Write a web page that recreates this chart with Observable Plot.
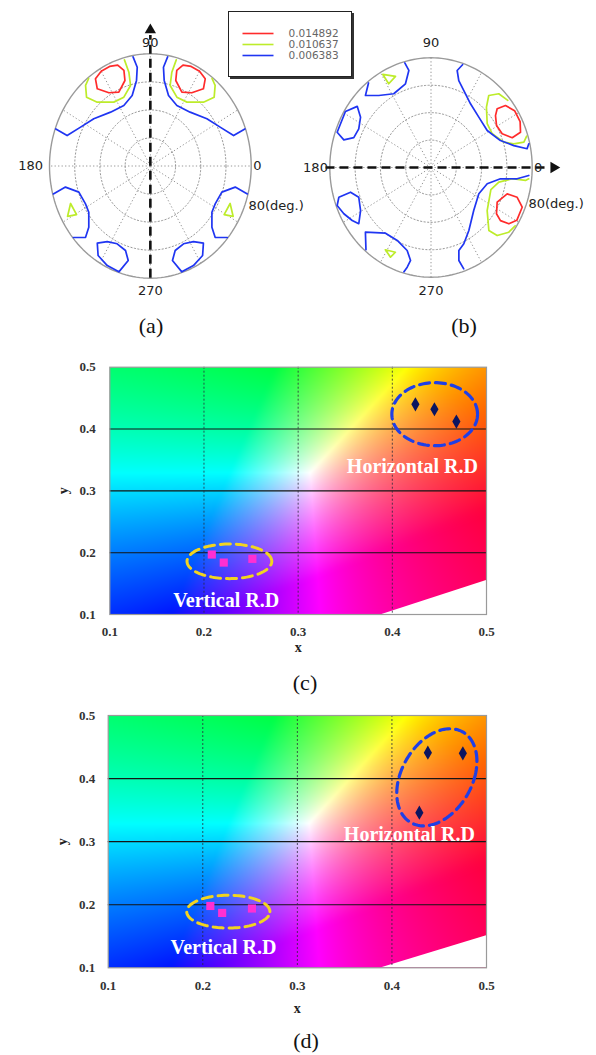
<!DOCTYPE html>
<html><head><meta charset="utf-8">
<script src="https://cdn.jsdelivr.net/npm/d3@7"></script>
<script src="https://cdn.jsdelivr.net/npm/@observablehq/plot@0.6"></script>
<style>
body{margin:0;background:#fff;}
#root{position:relative;width:596px;height:1055px;overflow:hidden;background:#fff;}
.layer{position:absolute;left:0;}
.cap{position:absolute;font-family:"Liberation Serif","Times New Roman",serif;font-size:22px;color:#111;transform:translate(-50%,-50%);white-space:nowrap;}
#legend{position:absolute;left:228px;top:11px;width:124px;height:66px;border:1px solid #222;box-shadow:2px 2px 0 #333;background:#fff;box-sizing:border-box;}
</style></head><body><div id="root"></div>
<script>
// ---------- data ----------
const levels = ["0.014892", "0.010637", "0.006383"];
const levelColors = ["#ff2b2b", "#bdec2a", "#1f35f2"];
const ringRadii = [20, 40, 60];
const outerRadius = 80;
const spokeAngles = [0, 30, 60, 90, 120, 150, 180, 210, 240, 270, 300, 330];

// contours of panel (a): [azimuth deg, polar angle deg]
const contoursA = [
  {level: 0, pts: [[120,78],[114.5,78],[109.8,76.5],[107.1,71.3],[108.3,64.2],[115.4,58.3],[122.2,61.7],[127.4,69.3],[125,75.9],[120,78]]},
  {level: 0, pts: [[60,78],[65.5,78],[70.2,76.5],[72.9,71.3],[71.7,64.2],[64.6,58.3],[57.8,61.7],[52.6,69.3],[55,75.9],[60,78]]},
  {level: 1, pts: [[105.2,78.4],[104.3,69],[105.3,59.5],[113.2,53.4],[122.5,54],[132.8,62],[135.9,70.5],[131.8,77.1],[128.1,79.3]]},
  {level: 1, pts: [[74.8,78.4],[75.7,69],[74.7,59.5],[66.8,53.4],[57.5,54],[47.2,62],[44.1,70.5],[48.2,77.1],[51.9,79.3]]},
  {level: 2, pts: [[100,79],[98.4,71.2],[100.2,62],[106,52.3],[116,48],[129.4,49.7],[143.1,56.1],[153.4,61.9],[161.8,69.5],[160.6,79.5]]},
  {level: 2, pts: [[80,79],[81.6,71.2],[79.8,62],[74,52.3],[64,48],[50.6,49.7],[36.9,56.1],[26.6,61.9],[18.2,69.5],[19.4,79.5]]},
  {level: 2, pts: [[194.5,79.5],[192.6,69],[198.2,59.7],[207.7,58.1],[214,58.9],[221.8,65.5],[224.7,72.3],[219.9,79.5]]},
  {level: 1, pts: [[202.9,68.7],[210.6,68],[208.7,74.9],[202.9,68.7]]},
  {level: 2, pts: [[232.6,69.3],[237.6,63.8],[244.6,61.4],[251.9,63.4],[255.4,69.6],[251.7,79.5],[244.3,78.8],[237,76.1],[232.6,69.3]]},
  {level: 2, pts: [[345.5,79.5],[347.4,69],[341.8,59.7],[332.3,58.1],[326,58.9],[318.2,65.5],[315.3,72.3],[320.1,79.5]]},
  {level: 1, pts: [[337.1,68.7],[329.4,68],[331.3,74.9],[337.1,68.7]]},
  {level: 2, pts: [[307.4,69.3],[302.4,63.8],[295.4,61.4],[288.1,63.4],[284.6,69.6],[288.3,79.5],[295.7,78.8],[303,76.1],[307.4,69.3]]}
];

// contours of panel (b)
const contoursB = [
  {level: 0, pts: [[39.3,67.6],[37.5,74.2],[32.1,78],[25.4,78],[20,75.3],[18.7,67.8],[23.6,61.4],[30.6,60.2],[36.6,63.5],[39.3,67.6]]},
  {level: 0, pts: [[-25.8,58.1],[-17.7,63.2],[-17.7,71.5],[-21.9,77.7],[-29.6,78],[-33.7,74],[-35.2,67.2],[-33.1,61.8],[-25.8,58.1]]},
  {level: 1, pts: [[38.9,78],[45.1,75.9],[49,69.6],[45.1,62.1],[35.7,54.7],[26.9,54.3],[17.8,60.4],[14.8,67.7],[14.1,75.7],[16.8,79]]},
  {level: 1, pts: [[-6.1,77.7],[-7.2,75.3],[-7.3,64.7],[-11.3,54.7],[-18.8,50],[-35.3,54.4],[-45.1,64.8],[-43.5,72.1],[-37.5,77.5],[-32.6,79]]},
  {level: 2, pts: [[71.6,79],[73.7,73.7],[70.9,67.1],[65.3,61.9],[56.1,56],[44.2,52.7],[31.3,52],[19.7,58.3],[13.7,67.4],[10.2,77.2],[12.6,79.2]]},
  {level: 2, pts: [[-4.3,77.5],[-6.9,68.6],[-8.5,55.5],[-15,46],[-26.9,42.4],[-42.9,46.1],[-56.9,54.8],[-65,61.4],[-70,64.4],[-72,71.3],[-70.7,78.3]]},
  {level: 2, pts: [[105.2,79],[103.9,72.9],[108.3,64.3],[118.7,61.3],[128.2,66.8],[134.6,73.8],[128.7,79]]},
  {level: 1, pts: [[119.3,77.8],[112.9,72.1],[118.7,69.6],[119.3,77.8]]},
  {level: 2, pts: [[148.9,79],[142.6,73.4],[146.6,66.7],[153.7,63.7],[160.4,64.8],[163.7,71.8],[160.9,78.5],[148.9,79]]},
  {level: 2, pts: [[196.6,76],[195.8,66.1],[200.8,61.1],[209.4,63.9],[215.7,70.3],[211.8,73.3],[206.1,76.7],[200.5,79.2],[196.6,76]]},
  {level: 2, pts: [[229.4,79],[222.3,70.1],[233.1,59.9],[243.4,59.5],[252.7,63.4],[256.6,69.7],[255.5,75.1],[254.3,79]]},
  {level: 1, pts: [[239,70],[245.5,67.9],[243.9,72.8],[239,70]]}
];

const labelsA = [
  {text: "90", t: 90, r: 88}, {text: "270", t: 270, r: 89},
  {text: "180", t: 180, r: 95}, {text: "0", t: 0, r: 85}
];
const degLabelA = [{text: "80(deg.)", t: -19.9, r: 82.8}];
const labelsB = [
  {text: "90", t: 90, r: 91}, {text: "270", t: 270, r: 90},
  {text: "180", t: 180, r: 91.3}, {text: "0", t: 0, r: 84.6}
];
const degLabelB = [{text: "80(deg.)", t: -18.8, r: 81.4}];

// chromaticity panels
const xTicks = [0.1, 0.2, 0.3, 0.4, 0.5];
const yTicks = [0.1, 0.2, 0.3, 0.4, 0.5];
const gridX = [0.2, 0.3, 0.4];
const gridY = [0.2, 0.3, 0.4];

const diamondsC = [[0.4245, 0.440], [0.4447, 0.432], [0.468, 0.412]];
const squaresC = [[0.2083, 0.197], [0.221, 0.184], [0.2514, 0.190]];
const blueEllipseC = {cx: 0.445, cy: 0.424, ax: 0.0455, ay: 0, bx: 0, by: 0.051};
const yellowEllipseC = {cx: 0.227, cy: 0.186, ax: 0.045, ay: 0, bx: 0, by: 0.028};
const purpleC = [[0.389, 0.1], [0.5, 0.155]];
const textC = [{text: "Horizontal R.D", x: 0.4213, y: 0.3395}, {text: "Vertical R.D", x: 0.2236, y: 0.1227}];

const diamondsD = [[0.438, 0.441], [0.475, 0.440], [0.429, 0.346]];
const squaresD = [[0.208, 0.198], [0.2205, 0.187], [0.252, 0.194]];
const blueEllipseD = {cx: 0.4475, cy: 0.402, ax: 0.040, ay: 0, bx: 0.014, by: 0.077};
const yellowEllipseD = {cx: 0.227, cy: 0.189, ax: 0.044, ay: 0, bx: 0, by: 0.026};
const purpleD = [[0.389, 0.1], [0.5, 0.151]];
const textD = [{text: "Horizontal R.D", x: 0.4185, y: 0.3113}, {text: "Vertical R.D", x: 0.2219, y: 0.1317}];

// ---------- helpers ----------
const rad = Math.PI / 180;
const pu = d => d.r * Math.cos(d.t * rad);
const pv = d => d.r * Math.sin(d.t * rad);
const root = document.getElementById("root");

function place(node, top, left = 0) {
  const div = document.createElement("div");
  div.className = "layer";
  div.style.top = top + "px";
  div.style.left = left + "px";
  div.appendChild(node);
  root.appendChild(div);
}
function caption(text, x, y) {
  const d = document.createElement("div");
  d.className = "cap"; d.textContent = text;
  d.style.left = x + "px"; d.style.top = y + "px";
  root.appendChild(d);
}

function polarPlot(contours, labels, degLabel, xr, yr, vertical) {
  const rows = contours.flatMap((c, i) => c.pts.map(([t, r]) => ({id: i, level: c.level, t, r})));
  const circ = d3.range(0, 361, 2);
  const rings = ringRadii.flatMap(R => circ.map(t => ({R, t, r: R})));
  const outer = circ.map(t => ({t, r: outerRadius}));
  const spokes = spokeAngles.map(t => ({t, r: outerRadius}));
  const marks = [
    Plot.line(rings, {x: pu, y: pv, z: "R", stroke: "#8c8c8c", strokeWidth: 0.9, strokeDasharray: "1.3,2.2"}),
    Plot.link(spokes, {x1: 0, y1: 0, x2: pu, y2: pv, stroke: "#8c8c8c", strokeWidth: 0.9, strokeDasharray: "1.3,2.2"}),
    Plot.line(outer, {x: pu, y: pv, stroke: "#9a9a9a", strokeWidth: 1.4}),
    Plot.line(rows, {x: pu, y: pv, z: "id", stroke: d => levelColors[d.level], strokeWidth: 1.7})
  ];
  if (vertical) {
    marks.push(Plot.ruleX([0], {y1: -80, y2: 93, stroke: "#111", strokeWidth: 2.6, strokeDasharray: "9,5"}));
    marks.push(Plot.dot([0], {x: 0, y: 97, symbol: "triangle", r: 4.2, fill: "#111", stroke: "none"}));
  } else {
    marks.push(Plot.ruleY([0], {x1: -83, x2: 92, stroke: "#111", strokeWidth: 2.6, strokeDasharray: "9,5"}));
    marks.push(Plot.dot([0], {x: 97, y: 0, symbol: "triangle", rotate: 90, r: 4.2, fill: "#111", stroke: "none"}));
  }
  marks.push(Plot.text(labels, {x: pu, y: pv, text: "text", fill: "#222", textAnchor: "middle"}));
  marks.push(Plot.text(degLabel, {x: pu, y: pv, text: "text", fill: "#222", textAnchor: "start"}));
  return Plot.plot({
    width: 596, height: 310,
    x: {domain: [-80, 80], range: xr, axis: null},
    y: {domain: [-80, 80], range: yr, axis: null},
    style: {background: "transparent", fontFamily: "'DejaVu Sans', sans-serif", fontSize: "13px", overflow: "visible"},
    marks
  });
}

function xyColor(x, y) {
  const X = x / y, Z = (1 - x - y) / y;
  let r = Math.max(0, 3.2406 * X - 1.5372 - 0.4986 * Z);
  let g = Math.max(0, -0.9689 * X + 1.8758 + 0.0415 * Z);
  let b = Math.max(0, 0.0557 * X - 0.2040 + 1.0570 * Z);
  const m = Math.max(r, g, b) || 1;
  const enc = c => {
    c = Math.pow(c / m, 1.9);
    const s = c <= 0.0031308 ? 12.92 * c : 1.055 * Math.pow(c, 1 / 2.4) - 0.055;
    return Math.round(255 * Math.min(1, s));
  };
  return `rgb(${enc(r)},${enc(g)},${enc(b)})`;
}

function ellipsePts(e) {
  return d3.range(0, 361, 3).map(a => {
    const c = Math.cos(a * rad), s = Math.sin(a * rad);
    return [e.cx + c * e.ax + s * e.bx, e.cy + c * e.ay + s * e.by];
  });
}

function chromaPlot(cfg) {
  return Plot.plot({
    width: 596, height: cfg.height,
    marginTop: cfg.mt, marginBottom: cfg.mb, marginLeft: cfg.ml, marginRight: cfg.mr,
    x: {domain: [0.1, 0.5], ticks: xTicks, tickFormat: d3.format(".1f"), tickSize: 0, tickPadding: cfg.xpad, label: null},
    y: {domain: [0.1, 0.5], ticks: yTicks, tickFormat: d3.format(".1f"), tickSize: 0, tickPadding: cfg.ypad, label: null},
    color: {type: "identity"},
    style: {background: "transparent", fontFamily: "'Liberation Serif', 'Times New Roman', serif", fontWeight: "bold", fontSize: "13px", color: "#333"},
    marks: [
      Plot.raster({fill: xyColor, x1: 0.1, x2: 0.5, y1: 0.1, y2: 0.5, pixelSize: 1}),
      Plot.areaY(cfg.purple, {x: d => d[0], y1: 0.1, y2: d => d[1], fill: "white"}),
      Plot.ruleY(gridY, {stroke: "#151515", strokeWidth: 1.1}),
      Plot.ruleX(gridX, {stroke: "#2a2a3a", strokeWidth: 0.8, strokeDasharray: "2,2"}),
      Plot.frame({stroke: "#9a9a9a", strokeWidth: 1.2}),
      Plot.line(ellipsePts(cfg.blueEll), {x: d => d[0], y: d => d[1], stroke: "#1f3fe6", strokeWidth: 3.2, strokeDasharray: "10,6"}),
      Plot.line(ellipsePts(cfg.yellowEll), {x: d => d[0], y: d => d[1], stroke: "#f2d420", strokeWidth: 3, strokeDasharray: "10,6"}),
      Plot.dot(cfg.diamonds, {x: d => d[0], y: d => d[1], symbol: "diamond", r: 4.3, fill: "#0c1560", stroke: "none"}),
      Plot.dot(cfg.squares, {x: d => d[0], y: d => d[1], symbol: "square", r: 4.6, fill: "#ff2fd2", stroke: "none"}),
      Plot.text(cfg.text, {x: "x", y: "y", text: "text", fill: "white", fontSize: 20, fontWeight: "bold"}),
      Plot.text(["x"], {x: 0.3, y: 0.1, dy: cfg.xlab, fill: "#222", fontSize: 14, fontWeight: "bold"}),
      Plot.text(["y"], {x: 0.1, y: 0.3, dx: -46, rotate: -90, fill: "#222", fontSize: 14, fontWeight: "bold"})
    ]
  });
}

function legendPlot() {
  return Plot.plot({
    width: 122, height: 64, margin: 0,
    x: {domain: [0, 1], range: [13, 44], axis: null},
    y: {type: "point", domain: levels, range: [15, 48], axis: null},
    style: {background: "transparent", fontFamily: "'DejaVu Sans', sans-serif", fontSize: "10.5px"},
    marks: [
      Plot.link(levels, {x1: 0, x2: 1, y1: d => d, y2: d => d, stroke: (d, i) => levelColors[i], strokeWidth: 1.6}),
      Plot.text(levels, {x: 1, y: d => d, text: d => d, dx: 15, textAnchor: "start", fill: "#666"})
    ]
  });
}

// ---------- build ----------
place(polarPlot(contoursA, labelsA, degLabelA, [49, 250.7], [277.7, 53.3], true), 0);
place(polarPlot(contoursB, labelsB, degLabelB, [329.3, 531.7], [276.7, 57.3], false), 0);
const lg = document.createElement("div"); lg.id = "legend"; lg.appendChild(legendPlot()); root.appendChild(lg);

place(chromaPlot({height: 334, mt: 26.7, mb: 60, ml: 109.3, mr: 110, xpad: 12, ypad: 14, xlab: 33,
  diamonds: diamondsC, squares: squaresC, blueEll: blueEllipseC, yellowEll: yellowEllipseC, purple: purpleC, text: textC}), 340);
place(chromaPlot({height: 337, mt: 25, mb: 59.7, ml: 107.7, mr: 110, xpad: 13, ypad: 13, xlab: 41,
  diamonds: diamondsD, squares: squaresD, blueEll: blueEllipseD, yellowEll: yellowEllipseD, purple: purpleD, text: textD}), 690);

caption("(a)", 151, 326);
caption("(b)", 464, 326);
caption("(c)", 305, 683);
caption("(d)", 306, 1041);
</script></body></html>
